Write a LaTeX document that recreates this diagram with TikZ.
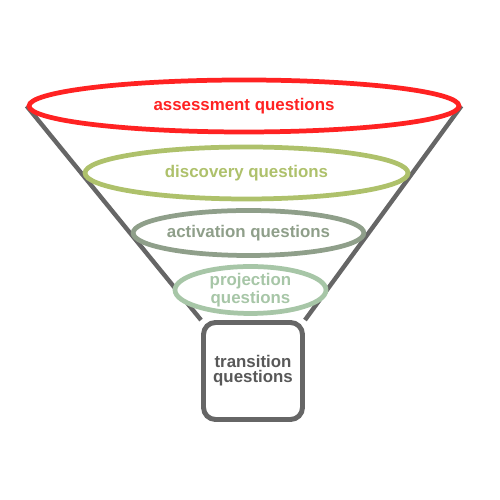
\documentclass[tikz,border=0pt]{standalone}
\usepackage{fontspec}
\setmainfont{Liberation Sans}
\usetikzlibrary{shapes.geometric,backgrounds}
\definecolor{assessred}{HTML}{FF2222}
\definecolor{discgreen}{HTML}{AEC16B}
\definecolor{actgray}{HTML}{8F9F8A}
\definecolor{projgreen}{HTML}{A7C6A7}
\definecolor{funnelgray}{HTML}{666666}
\definecolor{spouttext}{HTML}{585858}
\begin{document}
\begin{tikzpicture}[
  ring/.style={ellipse, draw=#1, text=#1, fill=white, line width=2.7pt, inner sep=0pt,
    align=center, font=\bfseries\fontsize{9.6}{8.5}\selectfont},
  wall/.style={funnelgray, line width=2.5pt}
  ]
  \useasboundingbox (0,0) rectangle (10,10);

  % Funnel levels
  \node[ring=assessred, minimum width=8.6cm, minimum height=1.04cm] (assess) at (4.88,7.88) {assessment questions};
  \node[ring=discgreen, minimum width=6.46cm, minimum height=1.04cm] (discovery) at (4.93,6.54) {discovery questions};
  \node[ring=actgray, minimum width=4.58cm, minimum height=0.9cm] (activation) at (4.97,5.34) {activation questions};
  \node[ring=projgreen, minimum width=3.02cm, minimum height=0.82cm] (projection) at (5.01,4.2) {projection\\questions};

  % Spout
  \node[draw=funnelgray, text=spouttext, fill=white, line width=2.8pt, rounded corners=0.24cm,
    minimum width=1.98cm, minimum height=1.94cm, inner sep=0pt, align=center,
    font=\bfseries\fontsize{9.6}{8.5}\selectfont] (spout) at (5.06,2.58) {transition\\questions};

  % Funnel walls
  \begin{scope}[on background layer]
    \draw[wall] (assess.west) -- (spout.north west);
    \draw[wall] (assess.east) -- (spout.north east);
  \end{scope}
\end{tikzpicture}
\end{document}
